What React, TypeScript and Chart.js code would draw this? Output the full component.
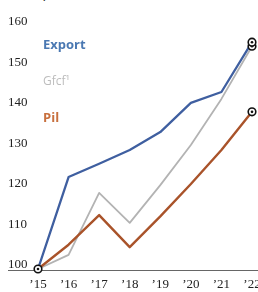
import { useEffect, useRef } from "react";
import { Chart, registerables } from "chart.js";

Chart.register(...registerables);

const years = ["’15", "’16", "’17", "’18", "’19", "’20", "’21", "’22"];
const exportValues = [100, 122.7, 126, 129.4, 133.8, 141, 143.7, 156];
const gfcfValues = [100, 103.5, 118.8, 111.4, 120.7, 130.6, 142, 155];
const pilValues = [100, 106, 113.3, 105.4, 113, 121, 129.4, 138.8];
const yMin = 100;
const yMax = 160;
const yStep = 10;
const seriesNames = ["Export", "Gfcf¹", "Pil"];
const seriesColors = ["#3f5fa0", "#b3b3b3", "#a9532a"];
const labelColors = ["#4a78b2", "#bdbdbd", "#c8703e"];
const labelFonts = ["bold 13px 'Open Sans'", "12px 'Open Sans'", "bold 13px 'Open Sans'"];
const labelValues = [155.3, 146.4, 137.3];
// markers: [datasetIndex, pointIndex]
const markers: [number, number][] = [
  [0, 0],
  [1, 7],
  [0, 7],
  [2, 7],
];

const decorPlugin = {
  id: "decor",
  afterDatasetsDraw(chart: any) {
    const { ctx, chartArea, scales } = chart;
    ctx.save();
    // baseline
    const by = Math.round(chartArea.bottom) + 1.5;
    ctx.strokeStyle = "#666";
    ctx.lineWidth = 1;
    ctx.beginPath();
    ctx.moveTo(8, by);
    ctx.lineTo(chart.width, by);
    ctx.stroke();
    // series labels
    ctx.textAlign = "left";
    ctx.textBaseline = "middle";
    seriesNames.forEach((t, i) => {
      ctx.font = labelFonts[i];
      ctx.fillStyle = labelColors[i];
      ctx.fillText(t, chartArea.left + 5, scales.y.getPixelForValue(labelValues[i]));
    });
    // markers
    markers.forEach(([ds, idx]) => {
      const p = chart.getDatasetMeta(ds).data[idx];
      if (!p) return;
      ctx.beginPath();
      ctx.arc(p.x, p.y, 3.8, 0, Math.PI * 2);
      ctx.fillStyle = "#fff";
      ctx.fill();
      ctx.lineWidth = 1.6;
      ctx.strokeStyle = "#111";
      ctx.stroke();
      ctx.beginPath();
      ctx.arc(p.x, p.y, 1.3, 0, Math.PI * 2);
      ctx.fillStyle = "#111";
      ctx.fill();
    });
    ctx.restore();
  },
};

export default function App() {
  const ref = useRef<HTMLCanvasElement>(null);
  useEffect(() => {
    if (!ref.current) return;
    const chart = new Chart(ref.current, {
      type: "line",
      data: {
        labels: years,
        datasets: [
          { label: seriesNames[0], data: exportValues, borderColor: seriesColors[0], borderWidth: 2.3, pointRadius: 0, tension: 0, order: 1 },
          { label: seriesNames[1], data: gfcfValues, borderColor: seriesColors[1], borderWidth: 1.8, pointRadius: 0, tension: 0, order: 3 },
          { label: seriesNames[2], data: pilValues, borderColor: seriesColors[2], borderWidth: 2.4, pointRadius: 0, tension: 0, order: 2 },
        ],
      },
      options: {
        animation: false,
        responsive: false,
        events: [],
        layout: { padding: { left: 8, right: 28, top: 26, bottom: 0 } },
        plugins: { legend: { display: false }, tooltip: { enabled: false }, title: { display: false } },
        elements: { line: { borderCapStyle: "round", borderJoinStyle: "round" } },
        scales: {
          x: {
            type: "category",
            offset: false,
            grid: { display: false, drawTicks: false },
            border: { display: false },
            ticks: {
              autoSkip: false,
              maxRotation: 0,
              padding: 8,
              color: "#222",
              font: { family: "'Liberation Serif'", size: 13 },
            },
            afterFit: (a: any) => {
              a.height = 23;
            },
          },
          y: {
            min: yMin,
            max: yMax,
            grid: { display: false, drawTicks: false },
            border: { display: false },
            ticks: {
              stepSize: yStep,
              crossAlign: "far",
              padding: 0,
              labelOffset: -4,
              color: "#222",
              font: { family: "'Liberation Serif'", size: 13 },
            },
            afterFit: (a: any) => {
              a.width = 30;
            },
          },
        },
      },
      plugins: [decorPlugin],
    });
    return () => chart.destroy();
  }, []);
  return (
    <div style={{ position: "fixed", left: 0, top: 0, width: 258, height: 292, overflow: "hidden", background: "#fff" }}>
      <div style={{ position: "absolute", left: 5, top: -13, font: "bold 13px 'Liberation Sans'", color: "#222", whiteSpace: "nowrap" }}>
        Indice, base 2015
      </div>
      <canvas ref={ref} width={280} height={292} style={{ position: "absolute", left: 0, top: 0 }} />
    </div>
  );
}
